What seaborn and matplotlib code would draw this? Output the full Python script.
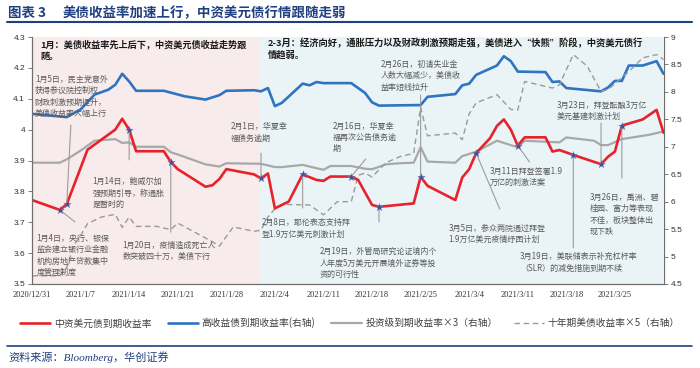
import matplotlib
matplotlib.use('Agg')
import matplotlib.pyplot as plt
import matplotlib.dates as mdates
from matplotlib.lines import Line2D
from matplotlib.ticker import FuncFormatter, MultipleLocator
import seaborn as sns
import pandas as pd

# ---------------- data (day offsets from 2020-12-31) ----------------
START = pd.Timestamp('2020-12-31')

red_days = [0, 4, 5, 8, 12, 13, 14, 15, 19, 20, 21, 25, 26, 27, 28, 32, 33, 34, 35, 37,
            39, 41, 42, 43, 46, 47, 49, 50, 55, 56, 57, 61, 62, 63, 64, 66, 67, 68, 69, 70,
            71, 74, 75, 76, 78, 82, 83, 84, 85, 88, 90, 91]
red_vals = [3.772, 3.74, 3.758, 3.935, 4.0, 4.035, 4.0, 3.93, 3.93, 3.895, 3.872, 3.815, 3.82,
            3.84, 3.872, 3.855, 3.842, 3.858, 3.745, 3.767, 3.855, 3.837, 3.834, 3.848, 3.848,
            3.837, 3.756, 3.75, 3.761, 3.847, 3.818, 3.772, 3.845, 3.872, 3.924, 3.972, 4.012,
            4.033, 4.0, 3.948, 3.975, 3.975, 3.929, 3.934, 3.918, 3.888, 3.912, 3.929, 4.013,
            4.033, 4.064, 3.99]

blue_days = [0, 5, 7, 9, 11, 12, 13, 14, 15, 19, 22, 25, 27, 28, 32, 33, 34, 35, 36, 39, 40,
             41, 42, 46, 48, 49, 50, 56, 57, 61, 62, 63, 64, 67, 68, 69, 70, 74, 75, 76, 77,
             82, 83, 84, 85, 86, 88, 90, 91]
blue_vals = [7.6, 7.54, 7.68, 7.95, 8.04, 8.13, 8.33, 8.19, 8.02, 8.02, 7.92, 7.86, 7.94, 8.02,
             8.03, 8.01, 8.07, 7.74, 7.8, 8.15, 8.12, 8.18, 8.16, 8.16, 7.98, 7.81, 7.75, 7.76,
             7.91, 7.96, 8.12, 8.15, 8.31, 8.48, 8.65, 8.56, 8.37, 8.36, 8.18, 8.19, 8.07, 8.01,
             8.08, 8.2, 8.2, 8.48, 8.48, 8.56, 8.33]

gray_days = [0, 4, 5, 7, 9, 10, 12, 13, 14, 15, 19, 20, 21, 23, 25, 27, 28, 33, 35, 36, 39,
             42, 43, 46, 48, 49, 51, 53, 55, 56, 57, 61, 62, 64, 67, 70, 71, 76, 77, 81, 82,
             83, 85, 89, 91]
gray_vals = [6.71, 6.71, 6.77, 6.93, 7.11, 7.12, 7.14, 7.07, 7.08, 7.0, 7.0, 6.9, 6.86, 6.77,
             6.68, 6.64, 6.7, 6.69, 6.63, 6.63, 6.67, 6.58, 6.65, 6.65, 6.6, 6.59, 6.68, 6.7,
             6.71, 6.99, 6.73, 6.71, 6.83, 6.91, 7.11, 6.99, 7.11, 7.08, 7.17, 7.11, 7.03,
             7.03, 7.14, 7.22, 7.28]

ust_days = [0, 4, 5, 6, 7, 8, 10, 12, 13, 14, 15, 18, 20, 21, 26, 27, 29, 32, 33, 34, 35, 36,
            40, 42, 44, 46, 47, 48, 49, 51, 53, 55, 56, 57, 61, 62, 63, 64, 67, 69, 70, 71,
            75, 76, 78, 80, 82, 83, 86, 88, 90, 91]
ust_vals = [4.65, 4.65, 4.8, 5.2, 5.38, 5.6, 5.72, 5.77, 5.53, 5.72, 5.55, 5.55, 5.49, 5.61,
            5.27, 5.19, 5.54, 5.46, 5.48, 5.72, 5.87, 5.95, 5.94, 5.76, 6.0, 6.0, 6.48, 6.52,
            6.45, 6.71, 6.82, 6.88, 7.72, 7.2, 7.25, 7.13, 7.6, 7.8, 7.95, 7.68, 7.67, 8.19,
            8.07, 8.13, 8.68, 8.47, 8.01, 8.04, 8.37, 8.62, 8.68, 8.59]

series_labels = ['中资美元债到期收益率', '高收益债到期收益率(右轴)',
                 '投资级到期收益率×3（右轴）', '十年期美债收益率×5（右轴）']

event_days = [4, 5, 14, 20, 33, 39, 46, 50, 56, 64, 70, 78, 82, 85]

x_tick_labels = ['2020/12/31', '2021/1/7', '2021/1/14', '2021/1/21', '2021/1/28', '2021/2/4',
                 '2021/2/11', '2021/2/18', '2021/2/25', '2021/3/4', '2021/3/11', '2021/3/18',
                 '2021/3/25']

title_num = '图表 3'
title_text = '美债收益率加速上行，中资美元债行情跟随走弱'
phase1 = '1月：美债收益率先上后下，中资美元债收益走势跟\n随。'
phase2 = '2-3月：经济向好，通胀压力以及财政刺激预期走强，美债进入“快熊”阶段，中资美元债行\n情趋弱。'
source = '资料来源：Bloomberg，华创证券'

notes = [
    '1月4日，央行、银保\n监会建立银行业金融\n机构房地产贷款集中\n度管理制度',
    '1月5日，民主党意外\n获得参议院控制权\n财政刺激预期提升，\n美债收益率大幅上行',
    '1月14日，鲍威尔加\n强预期引导，称通胀\n是暂时的',
    '1月20日，疫情造成死亡人\n数突破四十万，美债下行',
    '2月1日，华夏幸\n福债务逾期',
    '2月8日，耶伦表态支持拜\n登1.9万亿美元刺激计划',
    '2月16日，华夏幸\n福再次公告债务逾\n期',
    '2月19日，外管局研究论证境内个\n人年度5万美元开展境外证券等投\n资的可行性',
    '2月26日，初请失业金\n人数大幅减少，美债收\n益率短线拉升',
    '3月5日，参众两院通过拜登\n1.9万亿美元疫情纾困计划',
    '3月11日拜登签署1.9\n万亿的刺激法案',
    '3月19日，美联储表示补充杠杆率\n（SLR）的减免措施到期不续',
    '3月23日，拜登酝酿3万亿\n美元基建刺激计划',
    '3月26日，禹洲、碧\n桂园、富力等表现\n不佳，板块整体出\n现下跌',
]

# ---------------- layout / style ----------------
W, H = 700, 368
NAVY = '#1f3f7f'
RED = '#e8212b'
BLUE = '#2f74c0'
GRAY = '#a8a8a8'
DASH = '#9a9a9a'
NOTE = '#5a5a5a'
CJK = ['Noto Sans CJK SC', 'DejaVu Sans']

def to_dates(days):
    return pd.Series([START + pd.Timedelta(days=d) for d in days])

sns.set_theme(style='white')
plt.rcParams['font.family'] = CJK
plt.rcParams['axes.unicode_minus'] = False

fig = plt.figure(figsize=(W / 100, H / 100), dpi=100)
ax = fig.add_axes([32 / W, 1 - 284 / H, (663.5 - 32) / W, (284 - 37) / H])
ax2 = ax.twinx()
ax.set_zorder(2)
ax2.set_zorder(1)
ax.patch.set_visible(False)

x0 = START
x1 = START + pd.Timedelta(days=91)
split = START + pd.Timedelta(days=32.8)
ax2.axvspan(x0, split, color='#f8ebeb', zorder=0, lw=0)
ax2.axvspan(split, x1, color='#eaf4f7', zorder=0, lw=0)

sns.lineplot(x=to_dates(blue_days), y=blue_vals, ax=ax2, color=BLUE, lw=1.9,
             label=series_labels[1], legend=False)
sns.lineplot(x=to_dates(gray_days), y=gray_vals, ax=ax2, color=GRAY, lw=1.6,
             label=series_labels[2], legend=False)
sns.lineplot(x=to_dates(ust_days), y=ust_vals, ax=ax2, color=DASH, lw=1.0,
             linestyle=(0, (4, 2.6)), label=series_labels[3], legend=False)
sns.lineplot(x=to_dates(red_days), y=red_vals, ax=ax, color=RED, lw=1.9,
             label=series_labels[0], legend=False)

red_map = dict(zip(red_days, red_vals))
sns.scatterplot(x=to_dates(event_days), y=[red_map[d] for d in event_days], ax=ax,
                marker='*', s=32, color='#3f4c9e', edgecolor='#7a7fb0', linewidth=0.3,
                zorder=6, legend=False)

# connectors from event markers to their notes (end points in axis units)
conn_end = [(6.2, 3.701), (5.6, 4.015), (14, 3.902), (20, 3.668), (33, 3.924), (39, 3.746),
            (48.1, 3.905), (50, 3.701), (56, 4.112), (67.4, 3.743), (71.7, 3.895),
            (78, 3.617), (82, 4.021), (85, 3.843)]
for d, (ed, ev) in zip(event_days, conn_end):
    ax.annotate('', xy=(mdates.date2num(START + pd.Timedelta(days=d)), red_map[d]),
                xytext=(mdates.date2num(START + pd.Timedelta(days=ed)), ev),
                arrowprops=dict(arrowstyle='-', color='#9c9c9c', lw=0.8,
                                shrinkA=0, shrinkB=0), zorder=4)

# axes formatting
ax.set_xlim(x0, x1)
ax.set_ylim(3.5, 4.3)
ax2.set_ylim(4.5, 9.0)
ax.yaxis.set_major_locator(MultipleLocator(0.1))
ax2.yaxis.set_major_locator(MultipleLocator(0.5))
fmt = FuncFormatter(lambda v, p: f'{v:g}')
ax.yaxis.set_major_formatter(fmt)
ax2.yaxis.set_major_formatter(fmt)
ticks = pd.date_range('2020-12-31', periods=len(x_tick_labels), freq='7D')
ax.set_xticks(ticks)
ax.set_xticklabels(x_tick_labels, fontfamily='Liberation Serif', fontsize=6)
ax.set_xlabel('')
ax.set_ylabel('')
ax2.set_ylabel('')
for a in (ax, ax2):
    a.tick_params(axis='both', direction='out', length=3, width=0.6, color='#666666',
                  labelsize=6, pad=2, labelcolor='#333333')
    a.spines['top'].set_visible(False)
    for s in ('left', 'right', 'bottom'):
        a.spines[s].set_color('#6e6e6e')
        a.spines[s].set_linewidth(0.8)
for lab in ax.get_yticklabels() + ax2.get_yticklabels():
    lab.set_fontfamily('Liberation Sans')
ax.grid(False)
ax2.grid(False)

# phase headings
fig.text(40 / W, 1 - 39.5 / H, phase1, fontsize=6.6, weight='bold', color='#1a1a1a',
         va='top', ha='left', linespacing=1.35)
fig.text(268 / W, 1 - 38.5 / H, phase2, fontsize=6.7, weight='bold', color='#1a1a1a',
         va='top', ha='left', linespacing=1.3)

# event notes: centre of first line, in figure pixels from top-left
note_pos = [(36.7, 238.3), (35, 79.3), (92.7, 181.7), (122.7, 245), (231, 126.7),
            (261.7, 222.7), (332.7, 126), (320, 251.7), (380.7, 64.3), (448.3, 228.3),
            (489.3, 171), (520, 256.7), (556.7, 105), (590, 197.3)]
for txt, (px, py) in zip(notes, note_pos):
    fig.text(px / W, 1 - (py - 4.5) / H, txt, fontsize=5.8, color=NOTE, va='top',
             ha='left', linespacing=1.35, zorder=10)

# legend
h1, l1 = ax.get_legend_handles_labels()
h2, l2 = ax2.get_legend_handles_labels()
handles = h1[:1] + h2[:3]
labels = l1[:1] + l2[:3]
leg = fig.legend(handles, labels, loc='center', bbox_to_anchor=(350 / W, 1 - 323 / H),
                 ncol=4, frameon=False, fontsize=7, handlelength=3.1, handletextpad=0.4,
                 columnspacing=1.65)
for t in leg.get_texts():
    t.set_color('#404040')

# title, rules and source
fig.text(8 / W, 1 - 12.7 / H, title_num, fontsize=9.7, weight='bold', color=NAVY,
         va='center', ha='left')
fig.text(62.7 / W, 1 - 12.7 / H, title_text, fontsize=9.7, weight='bold', color=NAVY,
         va='center', ha='left')
fig.add_artist(Line2D([7 / W, 692 / W], [1 - 22 / H] * 2, color=NAVY, lw=1.5))
fig.add_artist(Line2D([7 / W, 692 / W], [1 - 346 / H] * 2, color=NAVY, lw=1.2))
fig.text(8 / W, 1 - 357 / H, source, fontsize=8, style='italic', color=NAVY, va='center',
         ha='left', family=['Liberation Serif', 'Noto Sans CJK SC'])

fig.savefig('out.png', dpi=100)
